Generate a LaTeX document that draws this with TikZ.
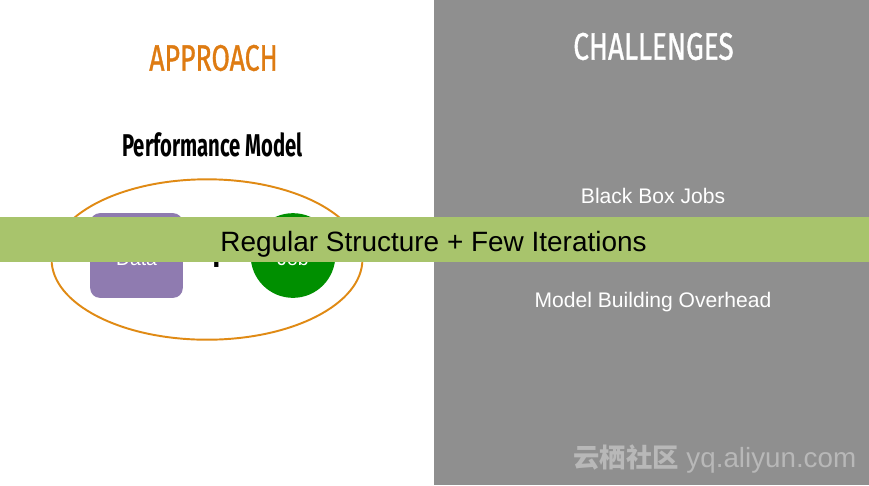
\documentclass[tikz,border=0pt]{standalone}
\usepackage{fontspec}
\setmainfont{Liberation Sans}
\newfontfamily\titlefont{Fira Sans}
\newfontfamily\headfont{Fira Sans}[FakeBold=1.2]
\newfontfamily\cjkfont{Noto Sans CJK SC}
\usetikzlibrary{positioning, shapes.geometric}

\definecolor{panelgray}{RGB}{143,143,143}
\definecolor{titleorange}{RGB}{222,123,18}
\definecolor{ringorange}{RGB}{224,138,20}
\definecolor{bandgreen}{RGB}{168,196,108}
\definecolor{datapurple}{RGB}{143,123,176}
\definecolor{jobgreen}{RGB}{0,143,0}
\definecolor{markgray}{RGB}{184,184,184}

\begin{document}
\begin{tikzpicture}[
    x=0.02cm, y=-0.02cm,
    title/.style={inner sep=0pt, font=\headfont},
    item/.style={inner sep=0pt, anchor=base, text=white, font=\fontsize{12}{14}\selectfont},
    tag/.style={inner sep=0pt, anchor=base, text=white, font=\fontsize{11}{13}\selectfont}
]
\useasboundingbox (0,0) rectangle (869,485);
\fill[white] (0,0) rectangle (434,485);
\fill[panelgray] (434,0) rectangle (869,485);

% left side
\node[title, text=titleorange] (approach) at (213.5,58) {\resizebox{73.1pt}{14.7pt}{APPROACH}};
\node[inner sep=0pt, font=\titlefont\bfseries] (perf) at (212.5,144.5) {\resizebox{102.6pt}{13.6pt}{Performance Model}};
\node[draw=ringorange, line width=1.1pt, ellipse, minimum width=176.9pt, minimum height=91.3pt, inner sep=0pt] (model) at (207,259.5) {};
\node[fill=datapurple, rounded corners=5.5pt, inner sep=0pt, minimum width=52.7pt, minimum height=48.2pt] (data) at (136.5,255.5) {};
\node[fill=jobgreen, circle, inner sep=0pt, minimum size=48.2pt] (job) at (293,255.5) {};
\node[tag] (datatxt) at (data.center |- 0,265) {Data};
\node[tag] (jobtxt) at (job.center |- 0,265) {Job};
\node[inner sep=0pt, anchor=base, font=\fontsize{22}{24}\bfseries\selectfont] (plus) at (217,270) {+};

% right side
\node[title, text=white] (challenges) at (653.5,46.5) {\resizebox{91.3pt}{15.3pt}{CHALLENGES}};
\node[item] (blackbox) at (653,203) {Black Box Jobs};
\node[item] (overhead) at (653,307) {Model Building Overhead};

% band across both halves
\node[fill=bandgreen, inner sep=0pt, minimum width=500pt, minimum height=25.5pt] (band) at (434.5,239.5) {};
\node[inner sep=0pt, anchor=base, font=\fontsize{15.9}{18}\selectfont] (bandtxt) at (433.5,251) {Regular Structure + Few Iterations};

\node[inner sep=0pt, anchor=base west, text=markgray, font=\fontsize{15.8}{17}\selectfont] (mark) at (573,467) {{\cjkfont\bfseries\fontsize{15}{17}\selectfont 云栖社区} yq.aliyun.com};
\end{tikzpicture}
\end{document}
